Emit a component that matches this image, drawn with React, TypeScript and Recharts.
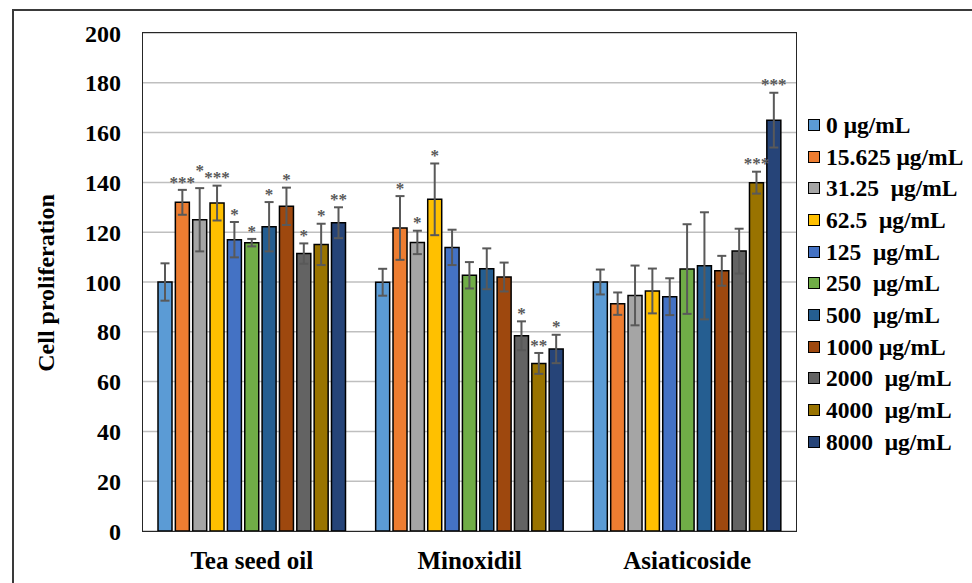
import { BarChart, Bar, XAxis, YAxis, CartesianGrid, ErrorBar, LabelList } from 'recharts';

const GROUPS = ['Tea seed oil', 'Minoxidil', 'Asiaticoside'];

const DOSES = [
  '0 μg/mL',
  '15.625 μg/mL',
  '31.25  μg/mL',
  '62.5  μg/mL',
  '125  μg/mL',
  '250  μg/mL',
  '500  μg/mL',
  '1000 μg/mL',
  '2000  μg/mL',
  '4000  μg/mL',
  '8000  μg/mL',
];

const COLORS = ['#5B9BD5', '#ED7D31', '#A5A5A5', '#FFC000', '#4472C4', '#70AD47', '#255E91', '#9E480E', '#636363', '#997300', '#264478'];

// mean / sd / significance per dose, one list per treatment
const TEA_MEAN = [100, 132, 125, 131.7, 117, 115.8, 122.2, 130.4, 111.4, 115.1, 123.8];
const TEA_SD = [7.5, 5, 12.7, 7, 7.1, 1.5, 9.9, 7.5, 4.1, 8.3, 6.2];
const TEA_SIG = ['', '***', '*', '***', '*', '*', '*', '*', '*', '*', '**'];

const MINOX_MEAN = [99.9, 121.7, 115.9, 133.2, 113.9, 102.7, 105.3, 102, 78.4, 67.3, 73.1];
const MINOX_SD = [5.4, 12.8, 4.7, 14.4, 7.1, 5.3, 8.2, 5.8, 5.8, 4.2, 5.7];
const MINOX_SIG = ['', '*', '*', '*', '', '', '', '', '*', '**', '*'];

const ASIA_MEAN = [100, 91.3, 94.6, 96.4, 94.1, 105.2, 106.5, 104.5, 112.4, 139.9, 165];
const ASIA_SD = [5, 4.5, 12, 9, 7.4, 18, 21.5, 6, 9, 4.4, 11];
const ASIA_SIG = ['', '', '', '', '', '', '', '', '', '***', '***'];

const Y_TICKS = [0, 20, 40, 60, 80, 100, 120, 140, 160, 180, 200];

const MEANS = [TEA_MEAN, MINOX_MEAN, ASIA_MEAN];
const SDS = [TEA_SD, MINOX_SD, ASIA_SD];
const SIGS = [TEA_SIG, MINOX_SIG, ASIA_SIG];

const data = GROUPS.map((group, gi) => {
  const row: Record<string, string | number> = { group };
  DOSES.forEach((_, di) => {
    row[`v${di}`] = MEANS[gi][di];
    row[`e${di}`] = SDS[gi][di];
  });
  return row;
});

const FONT = "'Liberation Serif', 'Times New Roman', serif";
const BAR_GAP = 3.35;
const STAR_W = 9.5;
const STAR_SIZE = 17;

// vertical centre (px) of the star marks; bumped up when they would hit the left neighbour's
function starCentre(gi: number, di: number, y0: number, ppu: number, pitch: number): number {
  let c = y0 - (MEANS[gi][di] + SDS[gi][di]) * ppu - 10;
  const prev = SIGS[gi][di - 1];
  if (di > 0 && prev) {
    const pc = starCentre(gi, di - 1, y0, ppu, pitch);
    const reach = ((prev.length + SIGS[gi][di].length) * STAR_W) / 2;
    if (reach > pitch && Math.abs(c - pc) < 6) c = pc - 12;
  }
  return c;
}

function starLabel(di: number) {
  return (props: any) => {
    const vb = props.viewBox || props;
    const gi = props.index;
    const stars = SIGS[gi]?.[di];
    if (!stars) return null;
    const x = Number(vb.x ?? props.x);
    const y = Number(vb.y ?? props.y);
    const w = Number(vb.width ?? props.width);
    const h = Number(vb.height ?? props.height);
    const ppu = h / MEANS[gi][di];
    const c = starCentre(gi, di, y + h, ppu, w + BAR_GAP);
    return (
      <text x={x + w / 2} y={c + STAR_SIZE * 0.45} textAnchor="middle" fill="#595959" fontFamily={FONT} fontWeight="bold" fontSize={STAR_SIZE}>
        {stars}
      </text>
    );
  };
}

export default function App() {
  return (
    <div style={{ position: 'absolute', left: 0, top: 0, width: 972, height: 583, background: '#fff', fontFamily: FONT }}>
      <div style={{ position: 'absolute', left: 12, top: 9, width: 960, height: 574, borderLeft: '2px solid #3a3a3a', borderTop: '2px solid #3a3a3a' }} />
      <BarChart
        width={972}
        height={583}
        data={data}
        margin={{ top: 33, right: 176, bottom: 22, left: 83 }}
        barSize={14}
        barGap={BAR_GAP}
        style={{ position: 'absolute', left: 0, top: 0 }}
      >
        <CartesianGrid vertical={false} stroke="#BFBFBF" strokeWidth={1.5} />
        <XAxis
          dataKey="group"
          height={30}
          axisLine={false}
          tickLine={false}
          tickSize={0}
          tickMargin={20}
          tick={{ fill: '#000', fontFamily: FONT, fontWeight: 'bold', fontSize: 25 }}
        />
        <YAxis
          width={60}
          domain={[0, 200]}
          ticks={Y_TICKS}
          axisLine={false}
          tickLine={false}
          tickSize={0}
          tickMargin={22}
          tick={{ fill: '#000', fontFamily: FONT, fontWeight: 'bold', fontSize: 24 }}
        />
        {DOSES.map((dose, di) => (
          <Bar key={dose} dataKey={`v${di}`} name={dose} fill={COLORS[di]} stroke="#000" strokeWidth={1.5} isAnimationActive={false}>
            <ErrorBar dataKey={`e${di}`} width={4.5} stroke="#595959" strokeWidth={2} direction="y" />
            <LabelList content={starLabel(di)} />
          </Bar>
        ))}
      </BarChart>
      <div style={{ position: 'absolute', left: 142, top: 32, width: 655, height: 500, border: '1.5px solid #262626', boxSizing: 'border-box', pointerEvents: 'none' }} />
      <div
        style={{
          position: 'absolute',
          left: 46,
          top: 283,
          transform: 'translate(-50%, -50%) rotate(-90deg)',
          whiteSpace: 'nowrap',
          fontWeight: 'bold',
          fontSize: 24,
          color: '#000',
        }}
      >
        Cell proliferation
      </div>
      <div style={{ position: 'absolute', left: 808, top: 109 }}>
        {DOSES.map((dose, di) => (
          <div key={dose} style={{ display: 'flex', alignItems: 'center', height: 31.7 }}>
            <span style={{ width: 12, height: 12, background: COLORS[di], border: '1.5px solid #000', boxSizing: 'border-box', marginRight: 6 }} />
            <span style={{ whiteSpace: 'pre', fontWeight: 'bold', fontSize: 23.5, lineHeight: '24px', color: '#000' }}>{dose}</span>
          </div>
        ))}
      </div>
    </div>
  );
}
